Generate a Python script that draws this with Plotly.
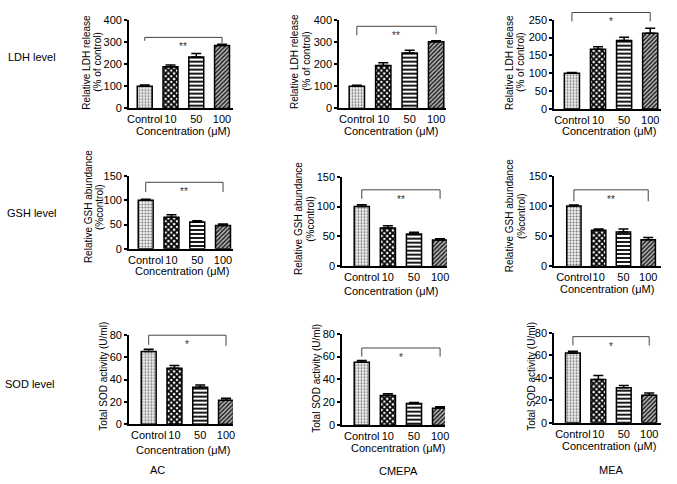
import plotly.graph_objects as go

W, H = 677, 484

categories = ["Control", "10", "50", "100"]
compounds = ["AC", "CMEPA", "MEA"]
rows = ["LDH level", "GSH level", "SOD level"]

ldh_ac = [100, 188, 232, 283]
ldh_ac_err = [5, 8, 15, 6]
ldh_cmepa = [100, 193, 250, 300]
ldh_cmepa_err = [4, 13, 12, 5]
ldh_mea = [100, 167, 192, 212]
ldh_mea_err = [2, 7, 9, 14]

gsh_ac = [100, 65, 55, 48]
gsh_ac_err = [2, 5, 3, 3]
gsh_cmepa = [100, 64, 54, 44]
gsh_cmepa_err = [3, 4, 3, 2]
gsh_mea = [100, 60, 57, 44]
gsh_mea_err = [2, 2, 5, 4]

sod_ac = [65, 50, 33, 21.5]
sod_ac_err = [2, 2.5, 2, 1.8]
sod_cmepa = [55, 26, 19, 15]
sod_cmepa_err = [1.5, 1.5, 1, 1.2]
sod_mea = [62, 38.5, 31, 24.5]
sod_mea_err = [1.5, 3.5, 2, 2]

values = [ldh_ac, ldh_cmepa, ldh_mea, gsh_ac, gsh_cmepa, gsh_mea, sod_ac, sod_cmepa, sod_mea]
errors = [ldh_ac_err, ldh_cmepa_err, ldh_mea_err, gsh_ac_err, gsh_cmepa_err, gsh_mea_err,
          sod_ac_err, sod_cmepa_err, sod_mea_err]

# significance brackets: (level, left drop end, right drop end, label)
brackets = [(320, 305, 295, "**"), (370, 330, 335, "**"), (270, 245, 245, "*"),
            (137, 117, 117, "**"), (128, 113, 113, "**"), (127, 108, 108, "**"),
            (79.5, 71, 70, "*"), (67.5, 60, 60, "*"), (76.5, 68.7, 68.7, "*")]

y_max = [400, 400, 250, 150, 150, 150, 80, 80, 80]
y_dtick = [100, 100, 50, 50, 50, 50, 20, 20, 20]
y_titles = [["Relative LDH release", "(% of control)"]] * 3 + \
           [["Relative GSH abundance", "(%control)"]] * 3 + \
           [["Total SOD activity (U/ml)"]] * 3
x_title = "Concentration (μM)"

# layout geometry in pixels: axis left, right, top, bottom, first bar centre, last bar centre
geom = [
    (128, 233, 14, 105, 144, 222),
    (340, 448, 14, 105, 358, 438),
    (557, 665, 14, 105.7, 575, 654),
    (128, 233, 174.3, 249, 145, 223),
    (343, 449, 175, 267, 363, 442),
    (557, 665, 174.3, 267, 577, 652),
    (128, 233, 337, 429, 148, 226),
    (343, 447, 336, 430, 363, 442),
    (557, 665, 335, 427.3, 576, 653),
]
ytitle_pos = [((85, 96), 58), ((295, 307), 57), ((512, 523), 58),
              ((88, 99), 206), ((299, 311), 218), ((512, 524), 215),
              ((102,), 380), ((317,), 382), ((534,), 380)]
xtitle_pos = [(183, 128), (392, 128), (612, 128), (182, 272), (392, 292), (610, 290),
              (183, 455), (400, 453), (612, 451)]
col_label_pos = [(157, 476), (400, 477), (615, 476)]
row_label_pos = [(30, 52), (30, 212), (28, 388)]

FONT = "Liberation Sans, Arial, sans-serif"

def px(x):
    return x / W

def py(y):
    return 1 - y / H

bar_styles = [
    dict(shape=".", size=3, solidity=0.3, fgcolor="#6e6e6e", bgcolor="#f0f0f0"),
    dict(shape="x", size=4, solidity=0.7, fgcolor="#000000", bgcolor="#ffffff"),
    dict(shape="-", size=4, solidity=0.45, fgcolor="#000000", bgcolor="#ffffff"),
    dict(shape="/", size=3, solidity=0.5, fgcolor="#1e1e1e", bgcolor="#bdbdbd"),
]

fig = go.Figure()
layout = dict(
    width=W, height=H, margin=dict(l=0, r=0, t=0, b=0),
    paper_bgcolor="white", plot_bgcolor="white", showlegend=False,
    barmode="overlay",
    font=dict(family=FONT, size=11, color="black"),
)
shapes = []
annotations = []

for i in range(9):
    n = i + 1
    sfx = "" if n == 1 else str(n)
    L, R, T, B, c0, c3 = geom[i]
    sp = (c3 - c0) / 3
    xr = [-(c0 - L) / sp, 3 + (R - c3) / sp]
    for j in range(4):
        st = bar_styles[j]
        fig.add_trace(go.Bar(
            x=[j], y=[values[i][j]], width=0.58,
            marker=dict(color=st["bgcolor"], line=dict(color="black", width=1.5),
                        pattern=dict(shape=st["shape"], size=st["size"], solidity=st["solidity"],
                                     fgcolor=st["fgcolor"], bgcolor=st["bgcolor"], fillmode="replace")),
            error_y=dict(type="data", array=[errors[i][j]], arrayminus=[0], symmetric=False,
                         color="black", thickness=1.5, width=5),
            xaxis="x" + sfx, yaxis="y" + sfx, opacity=1,
        ))
    layout["xaxis" + sfx] = dict(
        domain=[px(L), px(R)], range=xr, anchor="y" + sfx,
        tickvals=[0, 1, 2, 3], ticktext=categories, ticks="", tickangle=0,
        showline=True, linecolor="black", linewidth=1.5,
        showgrid=False, zeroline=False, tickfont=dict(size=11, family=FONT),
    )
    layout["yaxis" + sfx] = dict(
        domain=[py(B), py(T)], range=[0, y_max[i]], dtick=y_dtick[i], anchor="x" + sfx,
        ticks="outside", ticklen=3, tickwidth=1.5, tickcolor="black",
        showline=True, linecolor="black", linewidth=1.5,
        showgrid=False, zeroline=False, tickfont=dict(size=11, family=FONT),
    )
    # significance bracket
    lvl, le, re_, lab = brackets[i]
    ym = y_max[i]
    shapes.append(dict(
        type="path", xref="x" + sfx, yref="y" + sfx + " domain",
        path=f"M 0,{le / ym} L 0,{lvl / ym} L 3,{lvl / ym} L 3,{re_ / ym}",
        line=dict(color="#444444", width=1),
    ))
    annotations.append(dict(
        x=1.5, y=lvl / ym, xref="x" + sfx, yref="y" + sfx + " domain", text=lab,
        showarrow=False, bgcolor="white", font=dict(size=10, color="#333333", family=FONT),
        yshift=-3, borderpad=0,
    ))
    # y titles
    xs, yc = ytitle_pos[i]
    for line_txt, xline in zip(y_titles[i], xs):
        annotations.append(dict(
            x=px(xline), y=py(yc), xref="paper", yref="paper", text=line_txt,
            textangle=-90, showarrow=False, xanchor="center", yanchor="middle",
            font=dict(size=10, family=FONT),
        ))
    # x title
    xc, ycx = xtitle_pos[i]
    annotations.append(dict(
        x=px(xc), y=py(ycx), xref="paper", yref="paper", text=x_title,
        showarrow=False, xanchor="center", yanchor="middle", font=dict(size=11, family=FONT),
    ))

for lab, (x, y) in zip(compounds, col_label_pos):
    annotations.append(dict(x=px(x), y=py(y), xref="paper", yref="paper", text=lab,
                            showarrow=False, xanchor="center", yanchor="middle",
                            font=dict(size=11, family=FONT)))
for lab, (x, y) in zip(rows, row_label_pos):
    annotations.append(dict(x=px(x), y=py(y), xref="paper", yref="paper", text=lab,
                            showarrow=False, xanchor="center", yanchor="middle",
                            font=dict(size=11, family=FONT)))

layout["shapes"] = shapes
layout["annotations"] = annotations
fig.update_layout(**layout)
fig.write_html("out.html", config={"displayModeBar": False},
               post_script="document.body.style.margin='0';document.body.style.overflow='hidden';")
